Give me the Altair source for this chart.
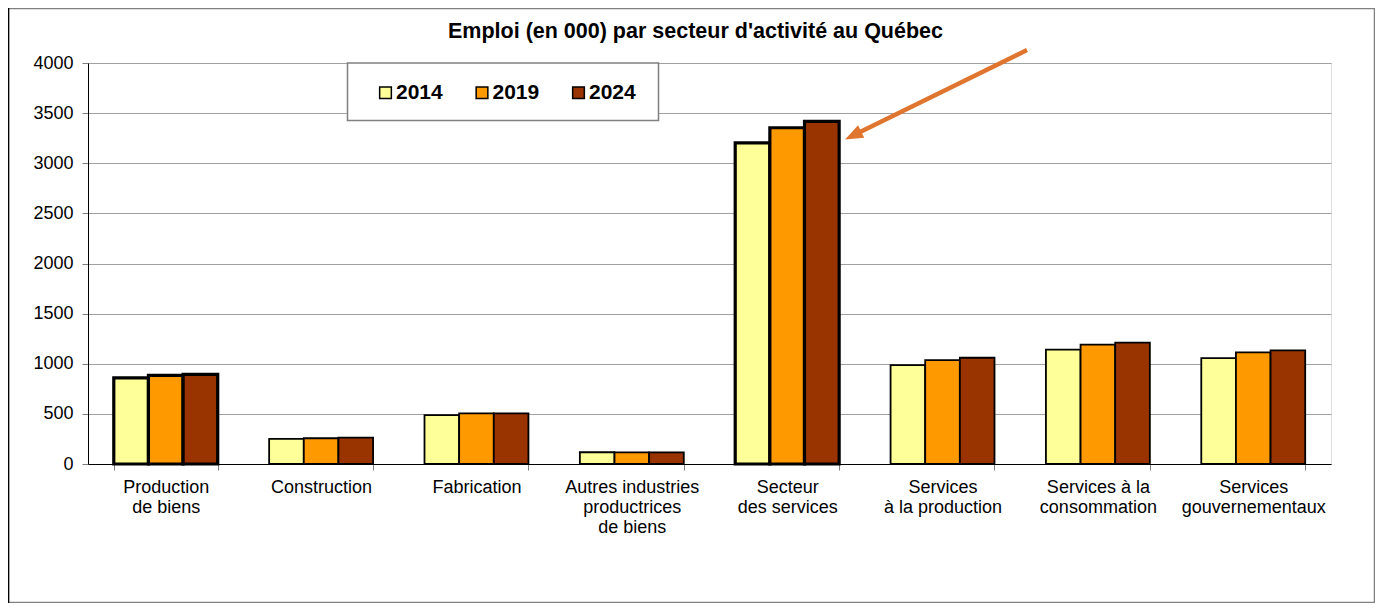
import altair as alt
import pandas as pd

categories = [
    "Production|de biens",
    "Construction",
    "Fabrication",
    "Autres industries|productrices|de biens",
    "Secteur|des services",
    "Services|à la production",
    "Services à la|consommation",
    "Services|gouvernementaux",
]
years = ["2014", "2019", "2024"]
v2014 = [860, 250, 487, 117, 3204, 987, 1140, 1057]
v2019 = [884, 257, 504, 115, 3354, 1037, 1190, 1114]
v2024 = [894, 264, 504, 115, 3417, 1060, 1210, 1134]
bold_categories = ["Production|de biens", "Secteur|des services"]
colors = ["#FFFF99", "#FF9900", "#993300"]
y_ticks = [0, 500, 1000, 1500, 2000, 2500, 3000, 3500, 4000]
title_text = "Emploi (en 000) par secteur d'activité au Québec"

rows = []
for i, c in enumerate(categories):
    for yr, vals in zip(years, [v2014, v2019, v2024]):
        rows.append({"cat": c, "year": yr, "value": vals[i],
                     "sw": 3.2 if c in bold_categories else 1.8})
df = pd.DataFrame(rows)

FONT = "Liberation Sans"
W, H = 1243, 401

bars = alt.Chart(df).mark_bar(stroke="black").encode(
    x=alt.X("cat:N", sort=categories, title=None,
            scale=alt.Scale(paddingInner=0.331, paddingOuter=0.166),
            axis=alt.Axis(labelExpr="split(datum.label, '|')", labelAngle=0,
                          labelFontSize=18, labelLineHeight=20, labelColor="black",
                          labelFont=FONT, tickBand="extent", tickSize=6,
                          tickColor="#808080", domainColor="black", labelPadding=8.5,
                          grid=False, labelLimit=0)),
    xOffset=alt.XOffset("year:N", sort=years,
                        scale=alt.Scale(paddingInner=0, paddingOuter=0)),
    y=alt.Y("value:Q", title=None,
            scale=alt.Scale(domain=[0, 4000], nice=False),
            axis=alt.Axis(values=y_ticks, format="d", grid=True, gridColor="#A0A0A0",
                          tickSize=6, tickColor="#808080", domainColor="black",
                          labelFontSize=18, labelFont=FONT, labelColor="black",
                          labelPadding=9)),
    fill=alt.Fill("year:N", scale=alt.Scale(domain=years, range=colors),
                  legend=alt.Legend(title=None, orient="none", legendX=287, legendY=19,
                                    direction="horizontal", symbolType="square",
                                    symbolSize=137, symbolStrokeColor="black",
                                    symbolStrokeWidth=1.5, labelFontSize=21,
                                    labelFontWeight="bold", labelFont=FONT,
                                    labelColor="black", labelOffset=0,
                                    columnPadding=28.5, padding=0)),
    strokeWidth=alt.StrokeWidth("sw:Q", scale=None),
)

one = pd.DataFrame({"a": [0]})

frame = alt.Chart(one).mark_rect(fill="transparent", stroke="#808080", strokeWidth=1.5).encode(
    x=alt.value(-79.5), x2=alt.value(1286.5), y=alt.value(-54.5), y2=alt.value(539.5))
frame_left = alt.Chart(one).mark_rule(color="black", strokeWidth=1.5).encode(
    x=alt.value(-79.5), y=alt.value(-55), y2=alt.value(540))

legend_box = alt.Chart(one).mark_rect(fill="white", stroke="#808080", strokeWidth=1.5).encode(
    x=alt.value(259.5), x2=alt.value(570.5), y=alt.value(0), y2=alt.value(57.5))

arrow_line = alt.Chart(one).mark_rule(color="#E07530", strokeWidth=4.5).encode(
    x=alt.value(939), y=alt.value(-13), x2=alt.value(768), y2=alt.value(71))
arrow_head = alt.Chart(one).mark_point(
    shape="M0,-1L0.7,0.8L-0.7,0.8Z", filled=True, fill="#E07530", opacity=1,
    strokeWidth=0, size=400, angle=243.8).encode(
    x=alt.value(766), y=alt.value(72))

chart = alt.layer(frame, frame_left, legend_box, bars, arrow_line, arrow_head).properties(
    width=W, height=H,
    padding={"left": 80, "top": 55, "right": 44, "bottom": 139},
    autosize=alt.AutoSizeParams(type="none"),
    title=alt.TitleParams(title_text, fontSize=21.5, font=FONT, fontWeight="bold",
                          color="black", anchor="middle", frame="group", dx=-14,
                          offset=0, dy=52, baseline="alphabetic"),
).configure_view(stroke="#808080", strokeWidth=1.5).configure(background="white")

chart.save("out.html", embed_options={"renderer": "svg", "actions": False})
